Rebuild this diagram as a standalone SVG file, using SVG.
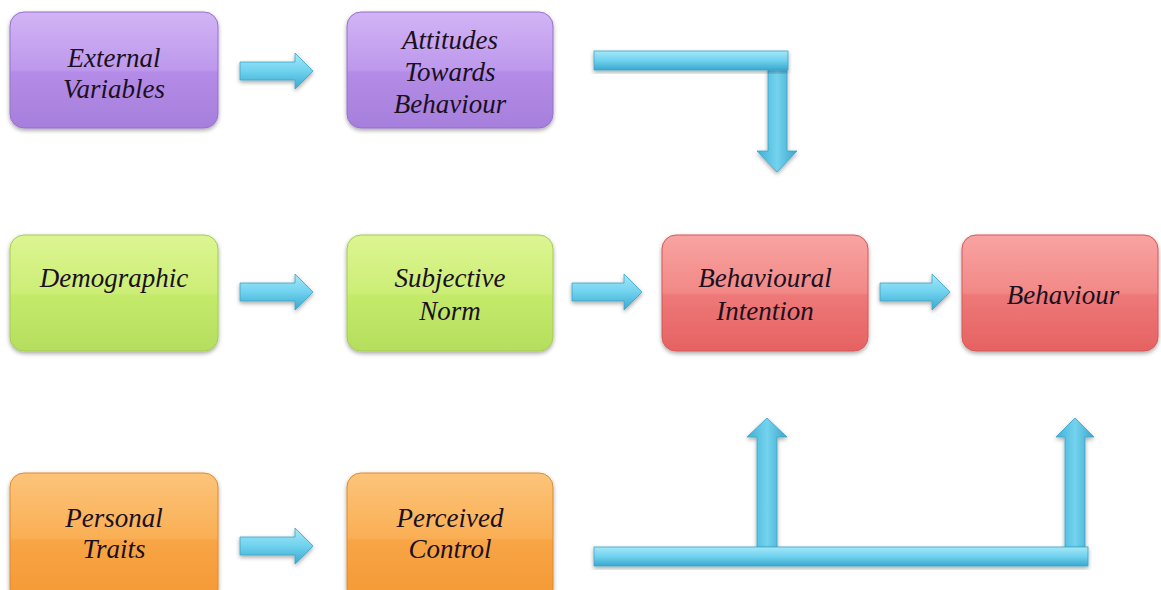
<svg xmlns="http://www.w3.org/2000/svg" width="1161" height="590" viewBox="0 0 1161 590">
  <defs>
    <linearGradient id="gPurple" x1="0" y1="0" x2="0" y2="1">
      <stop offset="0" stop-color="#d2b4f5"/>
      <stop offset="0.5" stop-color="#bd98ec"/>
      <stop offset="0.52" stop-color="#b48ce7"/>
      <stop offset="1" stop-color="#a67fdc"/>
    </linearGradient>
    <linearGradient id="gGreen" x1="0" y1="0" x2="0" y2="1">
      <stop offset="0" stop-color="#ddf592"/>
      <stop offset="0.5" stop-color="#ccee76"/>
      <stop offset="0.52" stop-color="#c4ea6a"/>
      <stop offset="1" stop-color="#b6de5e"/>
    </linearGradient>
    <linearGradient id="gRed" x1="0" y1="0" x2="0" y2="1">
      <stop offset="0" stop-color="#f8a4a2"/>
      <stop offset="0.5" stop-color="#f28886"/>
      <stop offset="0.52" stop-color="#ee7878"/>
      <stop offset="1" stop-color="#e66262"/>
    </linearGradient>
    <linearGradient id="gOrange" x1="0" y1="0" x2="0" y2="1">
      <stop offset="0" stop-color="#fcc47a"/>
      <stop offset="0.5" stop-color="#faaf54"/>
      <stop offset="0.52" stop-color="#f8a546"/>
      <stop offset="1" stop-color="#f49834"/>
    </linearGradient>
    <linearGradient id="gArrowH" x1="0" y1="0" x2="0" y2="1">
      <stop offset="0" stop-color="#a6e8f8"/>
      <stop offset="0.5" stop-color="#6fd2ee"/>
      <stop offset="1" stop-color="#3aa8cf"/>
    </linearGradient>
    <linearGradient id="gArrowV" x1="0" y1="0" x2="1" y2="0">
      <stop offset="0" stop-color="#3fb0d6"/>
      <stop offset="0.5" stop-color="#74d3ee"/>
      <stop offset="1" stop-color="#3aa6cc"/>
    </linearGradient>
    <filter id="shadow" x="-10%" y="-10%" width="120%" height="130%">
      <feDropShadow dx="0" dy="2" stdDeviation="2" flood-color="#000" flood-opacity="0.35"/>
    </filter>
  </defs>
  <style>
    .box { stroke-width: 1; filter: url(#shadow); }
    .purple { fill: url(#gPurple); stroke: #9670cc; }
    .green { fill: url(#gGreen); stroke: #a2cc52; }
    .red { fill: url(#gRed); stroke: #d85656; }
    .orange { fill: url(#gOrange); stroke: #e08a2a; }
    .lbl { font-family: "Liberation Serif", "Times New Roman", serif; font-style: italic; font-size: 27px; fill: #1a1020; text-anchor: middle; }
    .arr { fill: url(#gArrowH); stroke: #3aa3c8; stroke-width: 0.8; filter: url(#shadow); }
    .arrv { fill: url(#gArrowV); stroke: #3aa3c8; stroke-width: 0.8; filter: url(#shadow); }
  </style>
  <rect width="1161" height="590" fill="#ffffff"/>

  <g id="connectors">
    <path class="arr" d="M240,62 H295 V53 L313,71 L295,89 V80 H240 Z"/>
    <path class="arr" d="M240,283 H295 V274 L313,292 L295,310 V301 H240 Z"/>
    <path class="arr" d="M572,283 H624 V274 L642,292 L624,310 V301 H572 Z"/>
    <path class="arr" d="M880,283 H932 V274 L950,292 L932,310 V301 H880 Z"/>
    <path class="arr" d="M240,537 H295 V528 L313,546 L295,564 V555 H240 Z"/>
    <path class="arrv" d="M768,69 H787 V151 H797 L777,172 L757,151 H768 Z"/>
    <rect class="arr" x="594" y="51" width="194" height="19"/>
    <path class="arrv" d="M757,548 V437 H747 L767,418 L787,437 H777 V548 Z"/>
    <path class="arrv" d="M1065,548 V437 H1056 L1075,418 L1094,437 H1085 V548 Z"/>
    <rect class="arr" x="594" y="547" width="494" height="19"/>
  </g>

  <g id="external-variables">
    <rect class="box purple" x="10" y="12" width="208" height="116" rx="14"/>
    <text class="lbl" x="114" y="67">External</text>
    <text class="lbl" x="114" y="98">Variables</text>
  </g>
  <g id="attitudes">
    <rect class="box purple" x="347" y="12" width="206" height="116" rx="14"/>
    <text class="lbl" x="450" y="49">Attitudes</text>
    <text class="lbl" x="450" y="81">Towards</text>
    <text class="lbl" x="450" y="113">Behaviour</text>
  </g>

  <g id="demographic">
    <rect class="box green" x="10" y="235" width="208" height="116" rx="14"/>
    <text class="lbl" x="114" y="287">Demographic</text>
  </g>
  <g id="subjective-norm">
    <rect class="box green" x="347" y="235" width="206" height="116" rx="14"/>
    <text class="lbl" x="450" y="287">Subjective</text>
    <text class="lbl" x="450" y="320">Norm</text>
  </g>
  <g id="behavioural-intention">
    <rect class="box red" x="662" y="235" width="206" height="116" rx="14"/>
    <text class="lbl" x="765" y="287">Behavioural</text>
    <text class="lbl" x="765" y="320">Intention</text>
  </g>
  <g id="behaviour">
    <rect class="box red" x="962" y="235" width="196" height="116" rx="14"/>
    <text class="lbl" x="1063" y="304">Behaviour</text>
  </g>

  <g id="personal-traits">
    <rect class="box orange" x="10" y="473" width="208" height="130" rx="14"/>
    <text class="lbl" x="114" y="527">Personal</text>
    <text class="lbl" x="114" y="558">Traits</text>
  </g>
  <g id="perceived-control">
    <rect class="box orange" x="347" y="473" width="206" height="130" rx="14"/>
    <text class="lbl" x="450" y="527">Perceived</text>
    <text class="lbl" x="450" y="558">Control</text>
  </g>
</svg>
